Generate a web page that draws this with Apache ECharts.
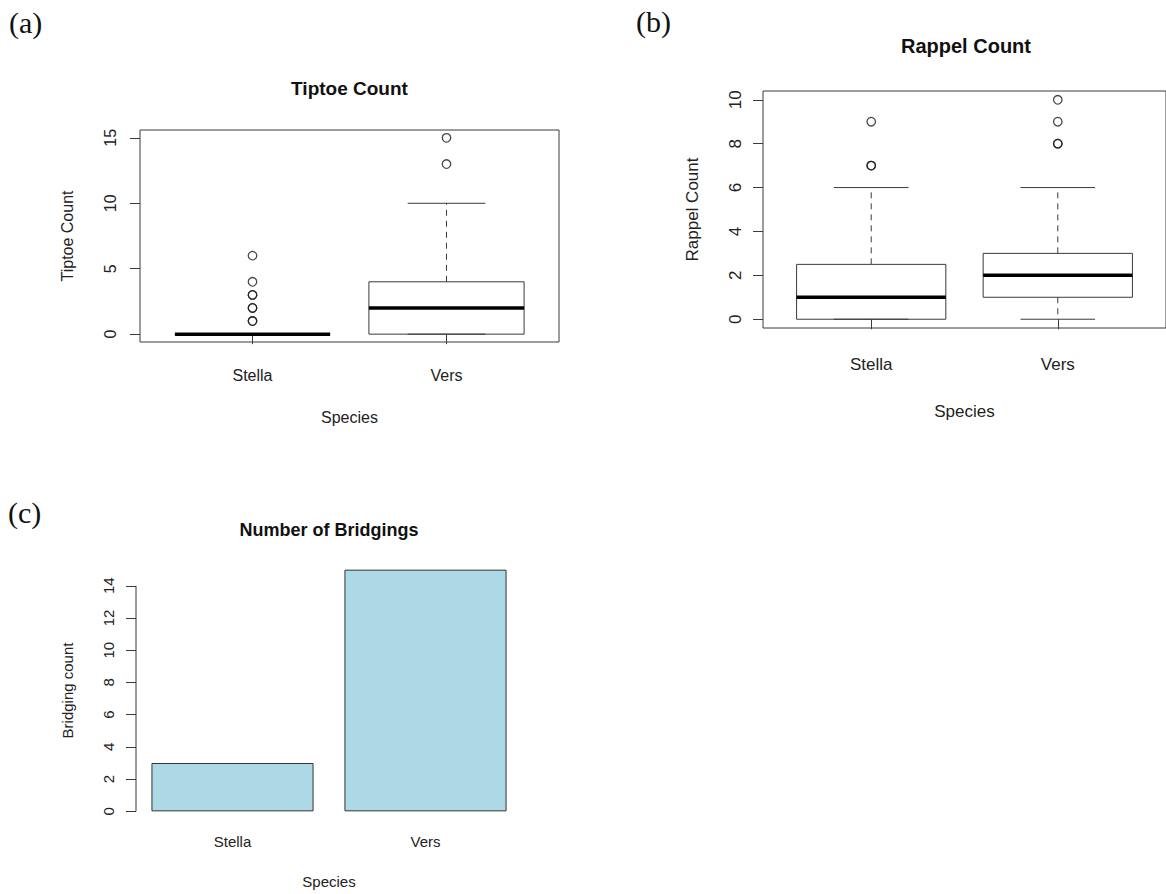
<!DOCTYPE html>
<html>
<head>
<meta charset="utf-8">
<script src="https://cdn.jsdelivr.net/npm/echarts@6/dist/echarts.min.js"></script>
<style>
html,body{margin:0;padding:0;background:#fff;}
#chart{width:1166px;height:894px;}
</style>
</head>
<body>
<div id="chart"></div>
<script>
// ---------------- data ----------------
const species = ['Stella', 'Vers'];
// five-number summaries: [lower whisker, Q1, median, Q3, upper whisker]
const tiptoeStella = [0, 0, 0, 0, 0];
const tiptoeVers = [0, 0, 2, 4, 10];
const tiptoeStellaOutliers = [1, 1, 2, 2, 3, 3, 4, 6];
const tiptoeVersOutliers = [13, 15];
const rappelStella = [0, 0, 1, 2.5, 6];
const rappelVers = [0, 1, 2, 3, 6];
const rappelStellaOutliers = [7, 7, 9];
const rappelVersOutliers = [8, 8, 9, 10];
const bridgingCounts = [3, 15];
const tiptoeTicks = [0, 5, 10, 15];
const rappelTicks = [0, 2, 4, 6, 8, 10];
const bridgingTicks = [0, 2, 4, 6, 8, 10, 12, 14];
const titles = ['Tiptoe Count', 'Rappel Count', 'Number of Bridgings'];
const yTitles = ['Tiptoe Count', 'Rappel Count', 'Bridging count'];
const xTitle = 'Species';
const panelLabels = ['(a)', '(b)', '(c)'];

// ---------------- helpers ----------------
const SANS = '"Liberation Sans", Arial, Helvetica, sans-serif';
const SERIF = '"Liberation Serif", "Times New Roman", serif';
const INK = '#222';
const LINE = '#3a3a3a';

function pad(lo, hi) { const r = hi - lo; return [lo - 0.04 * r, hi + 0.04 * r]; }
function maxOf(arrs) { return Math.max.apply(null, [].concat.apply([], arrs)); }
function minOf(arrs) { return Math.min.apply(null, [].concat.apply([], arrs)); }

const xRange = pad(0.5, species.length + 0.5);
const tiptoeRange = pad(minOf([tiptoeStella, tiptoeVers]), maxOf([tiptoeStella, tiptoeVers, tiptoeStellaOutliers, tiptoeVersOutliers]));
const rappelRange = pad(minOf([rappelStella, rappelVers]), maxOf([rappelStella, rappelVers, rappelStellaOutliers, rappelVersOutliers]));
const bridgingRange = pad(0, Math.max.apply(null, bridgingCounts));

function boxRender(params, api) {
  const x = api.value(0);
  const v = [1, 2, 3, 4, 5].map(i => api.value(i));
  const c = (xx, yy) => api.coord([xx, yy]);
  const thin = { stroke: LINE, lineWidth: 1, fill: null };
  const dashed = { stroke: LINE, lineWidth: 1, lineDash: [6, 5], fill: null };
  const seg = (a, b, style) => ({ type: 'line', shape: { x1: a[0], y1: a[1], x2: b[0], y2: b[1] }, style: style });
  const lt = c(x - 0.4, v[3]);
  const rb = c(x + 0.4, v[1]);
  return {
    type: 'group',
    children: [
      seg(c(x, v[3]), c(x, v[4]), dashed),
      seg(c(x, v[1]), c(x, v[0]), dashed),
      seg(c(x - 0.2, v[4]), c(x + 0.2, v[4]), thin),
      seg(c(x - 0.2, v[0]), c(x + 0.2, v[0]), thin),
      { type: 'rect', shape: { x: lt[0], y: lt[1], width: rb[0] - lt[0], height: rb[1] - lt[1] },
        style: { fill: 'rgba(255,255,255,0)', stroke: LINE, lineWidth: 1 } },
      seg(c(x - 0.4, v[2]), c(x + 0.4, v[2]), { stroke: '#000', lineWidth: 3.5 })
    ]
  };
}

function axisLineRender(params, api) {
  const x0 = params.coordSys.x;
  const y1 = api.coord([0, api.value(1)])[1];
  const y2 = api.coord([0, api.value(2)])[1];
  return { type: 'line', shape: { x1: x0, y1: y1, x2: x0, y2: y2 }, style: { stroke: LINE, lineWidth: 1 } };
}

function valueX(gi, fs, margin, gap) {
  return {
    type: 'value', gridIndex: gi, min: xRange[0], max: xRange[1],
    axisLine: { show: false }, splitLine: { show: false },
    axisTick: { show: true, customValues: species.map((s, i) => i + 1), length: 10, lineStyle: { color: LINE, width: 1 } },
    axisLabel: { show: true, customValues: species.map((s, i) => i + 1), formatter: v => species[Math.round(v) - 1],
      margin: margin, fontSize: fs, color: INK, fontFamily: SANS },
    name: xTitle, nameLocation: 'middle', nameGap: gap,
    nameTextStyle: { fontSize: fs, color: INK, fontFamily: SANS }
  };
}

function valueY(gi, range, ticks, title, fs, margin, gap) {
  return {
    type: 'value', gridIndex: gi, min: range[0], max: range[1],
    axisLine: { show: false }, splitLine: { show: false },
    axisTick: { show: true, customValues: ticks, length: 10, lineStyle: { color: LINE, width: 1 } },
    axisLabel: { show: true, customValues: ticks, rotate: 90, margin: margin, fontSize: fs, color: INK, fontFamily: SANS },
    name: title, nameLocation: 'middle', nameRotate: 90, nameGap: gap,
    nameTextStyle: { fontSize: fs, color: INK, fontFamily: SANS }
  };
}

function outlierData(xs) {
  const out = [];
  xs.forEach((arr, i) => arr.forEach(v => out.push([i + 1, v])));
  return out;
}

const outlierStyle = { color: 'rgba(0,0,0,0)', borderColor: '#1a1a1a', borderWidth: 1.3 };

function text(x, y, str, font, align) {
  return {
    type: 'text', x: x, y: y, silent: true,
    style: { text: str, font: font, fill: '#111', align: align || 'center', verticalAlign: 'middle',
      textAlign: align || 'center', textVerticalAlign: 'middle' }
  };
}

const chart = echarts.init(document.getElementById('chart'), null, { renderer: 'svg', width: 1166, height: 894 });

chart.setOption({
  animation: false,
  backgroundColor: '#fff',
  grid: [
    { left: 140, top: 130, width: 419, height: 212, show: true, borderColor: LINE, borderWidth: 1, backgroundColor: 'rgba(0,0,0,0)' },
    { left: 763, top: 91, width: 406, height: 237, show: true, borderColor: LINE, borderWidth: 1, backgroundColor: 'rgba(0,0,0,0)' },
    { left: 136, top: 560, width: 386, height: 261, show: false }
  ],
  xAxis: [
    valueX(0, 16, 25, 67),
    valueX(1, 17, 28, 75),
    {
      type: 'category', gridIndex: 2, data: species, boundaryGap: true,
      axisLine: { show: false }, axisTick: { show: false }, splitLine: { show: false },
      axisLabel: { margin: 13, fontSize: 15, color: INK, fontFamily: SANS },
      name: xTitle, nameLocation: 'middle', nameGap: 53,
      nameTextStyle: { fontSize: 15, color: INK, fontFamily: SANS }
    }
  ],
  yAxis: [
    valueY(0, tiptoeRange, tiptoeTicks, yTitles[0], 16, 22, 65),
    valueY(1, rappelRange, rappelTicks, yTitles[1], 17, 19, 62),
    valueY(2, bridgingRange, bridgingTicks, yTitles[2], 15, 20, 61)
  ],
  graphic: [
    text(349.5, 88, titles[0], 'bold 19px ' + SANS),
    text(966, 46, titles[1], 'bold 20px ' + SANS),
    text(329, 530, titles[2], 'bold 18px ' + SANS),
    text(9, 22, panelLabels[0], '30px ' + SERIF, 'left'),
    text(636, 21, panelLabels[1], '30px ' + SERIF, 'left'),
    text(8, 512, panelLabels[2], '30px ' + SERIF, 'left')
  ],
  series: [
    { type: 'custom', xAxisIndex: 0, yAxisIndex: 0, renderItem: boxRender, clip: false,
      encode: { x: 0, y: [1, 2, 3, 4, 5] },
      data: [[1].concat(tiptoeStella), [2].concat(tiptoeVers)] },
    { type: 'scatter', xAxisIndex: 0, yAxisIndex: 0, symbol: 'circle', symbolSize: 8.5,
      itemStyle: outlierStyle, data: outlierData([tiptoeStellaOutliers, tiptoeVersOutliers]) },
    { type: 'custom', xAxisIndex: 1, yAxisIndex: 1, renderItem: boxRender, clip: false,
      encode: { x: 0, y: [1, 2, 3, 4, 5] },
      data: [[1].concat(rappelStella), [2].concat(rappelVers)] },
    { type: 'scatter', xAxisIndex: 1, yAxisIndex: 1, symbol: 'circle', symbolSize: 8.5,
      itemStyle: outlierStyle, data: outlierData([rappelStellaOutliers, rappelVersOutliers]) },
    { type: 'bar', xAxisIndex: 2, yAxisIndex: 2, barWidth: '84%', data: bridgingCounts,
      itemStyle: { color: '#ADD8E6', borderColor: '#333', borderWidth: 1 } },
    { type: 'custom', xAxisIndex: 2, yAxisIndex: 2, renderItem: axisLineRender, clip: false,
      encode: { y: [1, 2] }, silent: true,
      data: [[0, bridgingTicks[0], bridgingTicks[bridgingTicks.length - 1]]] }
  ]
});
</script>
</body>
</html>
